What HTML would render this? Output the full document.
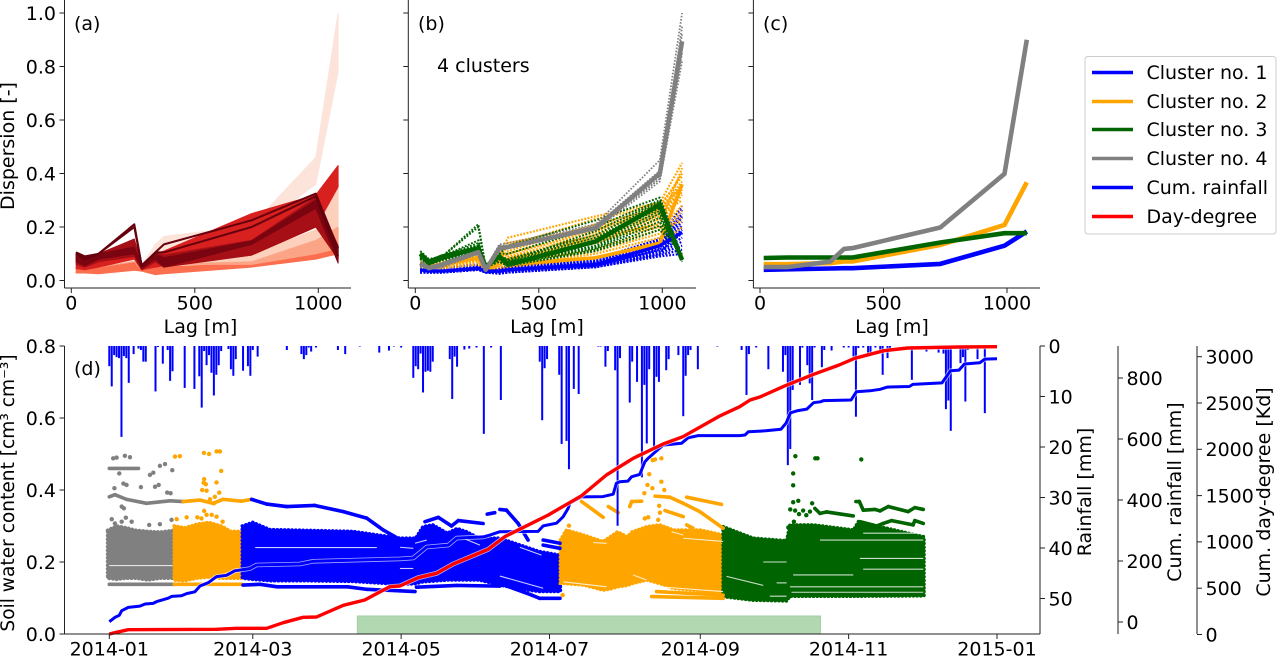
<!DOCTYPE html>
<html lang="en">
<head>
<meta charset="utf-8">
<title>Soil water dispersion clusters</title>
<style>
html,body{margin:0;padding:0;background:#fff;width:1277px;height:656px;overflow:hidden}
svg{display:block}
text{font-family:"DejaVu Sans","Liberation Sans",sans-serif;font-size:19px;fill:#000}
</style>
</head>
<body>
<svg id="figure" width="1277" height="656" viewBox="0 0 1277 656" xmlns="http://www.w3.org/2000/svg">
  <g id="panels"></g>
  <text x="74" y="30">(a)</text>
  <text x="418" y="30">(b)</text>
  <text x="763" y="30">(c)</text>
  <text x="74" y="375">(d)</text>
  <text x="437" y="72">4 clusters</text>
  <text text-anchor="middle" transform="translate(14,146) rotate(-90)">Dispersion [-]</text>
  <text text-anchor="middle" x="200.5" y="333">Lag [m]</text>
  <text text-anchor="middle" x="547" y="333">Lag [m]</text>
  <text text-anchor="middle" x="892" y="333">Lag [m]</text>
  <text text-anchor="middle" style="font-size:18.6px" transform="translate(14,493) rotate(-90)">Soil water content [cm³ cm⁻³]</text>
  <text text-anchor="middle" transform="translate(1091,492) rotate(-90)">Rainfall [mm]</text>
  <text text-anchor="middle" transform="translate(1181,492) rotate(-90)">Cum. rainfall [mm]</text>
  <text text-anchor="middle" transform="translate(1270,492) rotate(-90)">Cum. day-degree [Kd]</text>

  <g>
    <rect x="1085" y="56.5" width="191" height="177.5" rx="3" fill="#fff" stroke="#ccc" stroke-width="1"/>
    <line x1="1092" x2="1133" y1="72.5" y2="72.5" stroke="#0000ff" stroke-width="3.4"/>
    <text x="1146.5" y="79">Cluster no. 1</text>
    <line x1="1092" x2="1133" y1="101.5" y2="101.5" stroke="#ffa500" stroke-width="3.4"/>
    <text x="1146.5" y="108">Cluster no. 2</text>
    <line x1="1092" x2="1133" y1="129.5" y2="129.5" stroke="#006400" stroke-width="3.4"/>
    <text x="1146.5" y="136">Cluster no. 3</text>
    <line x1="1092" x2="1133" y1="158.5" y2="158.5" stroke="#808080" stroke-width="3.4"/>
    <text x="1146.5" y="165">Cluster no. 4</text>
    <line x1="1092" x2="1133" y1="187.5" y2="187.5" stroke="#0000ff" stroke-width="3.4"/>
    <text x="1146.5" y="194">Cum. rainfall</text>
    <line x1="1092" x2="1133" y1="216.5" y2="216.5" stroke="#ff0000" stroke-width="3.4"/>
    <text x="1146.5" y="223">Day-degree</text>
  </g>
</svg>

<script>
/* ---------- Panels a-c: lag categories and tick labels ---------- */
const lagsFine = [20, 55, 110, 255, 285, 340, 375, 730, 990, 1080];
const lagsCoarse = [15, 110, 285, 340, 375, 730, 990, 1080];
const lagTicks = [0, 500, 1000];
const dispersionTicks = [0.0, 0.2, 0.4, 0.6, 0.8, 1.0];

/* Panel (a): envelopes of the red line families */
const redLow = [
  [.04,.04,.04,.05,.04,.04,.05,.18,.36,.78],
  [.03,.03,.03,.04,.035,.03,.03,.055,.09,.10],
  [.028,.028,.025,.038,.035,.022,.025,.05,.08,.10],
  [.05,.045,.05,.07,.04,.05,.06,.06,.10,.12],
  [.045,.04,.05,.08,.04,.05,.055,.095,.20,.35],
  [.06,.05,.07,.09,.04,.07,.05,.095,.20,.08],
  [.07,.055,.08,.10,.045,.08,.05,.135,.27,.065]
];
const redHigh = [
  [.05,.05,.06,.10,.055,.135,.165,.205,.46,1.0],
  [.05,.05,.05,.07,.05,.06,.07,.098,.19,.36],
  [.05,.05,.05,.07,.05,.05,.05,.064,.105,.125],
  [.05,.045,.05,.07,.04,.05,.06,.07,.15,.20],
  [.10,.07,.09,.12,.055,.10,.11,.25,.32,.43],
  [.10,.08,.10,.155,.06,.105,.095,.15,.31,.13],
  [.105,.085,.10,.125,.055,.10,.085,.148,.30,.12]
];
const redPalette = ['#fde4da','#fdd0bc','#fb6e4e','#fca486','#d8201f','#a50f15','#7a0510'];
const darkLine1 = [.105,.09,.10,.21,.055,.105,.135,.225,.325,.12];
const darkLine2 = [.10,.08,.10,.20,.055,.105,.105,.20,.315,.09];

/* Panel (b): dotted members of each cluster */
const membersBlue = [
  [.03,.03,.03,.04,.03,.025,.03,.05,.09,.10],
  [.035,.03,.03,.04,.035,.03,.03,.055,.10,.13],
  [.04,.035,.035,.045,.035,.03,.035,.06,.11,.16],
  [.04,.04,.04,.05,.035,.035,.04,.06,.125,.19],
  [.045,.04,.04,.05,.04,.035,.04,.065,.135,.22],
  [.05,.045,.045,.055,.04,.04,.045,.07,.14,.25],
  [.055,.045,.05,.055,.04,.04,.05,.08,.155,.28],
  [.03,.03,.035,.045,.03,.03,.035,.05,.095,.115],
  [.035,.03,.03,.04,.03,.03,.03,.052,.105,.145],
  [.04,.035,.04,.05,.03,.035,.04,.055,.115,.175],
  [.05,.04,.045,.05,.04,.04,.045,.065,.13,.205],
  [.05,.04,.045,.055,.04,.04,.05,.07,.145,.235],
  [.055,.05,.05,.06,.045,.045,.055,.075,.15,.265],
  [.03,.03,.03,.04,.03,.03,.03,.05,.10,.20],
  [.03,.03,.03,.04,.03,.03,.03,.05,.12,.24]
];
const membersOrange = [
  [.05,.04,.045,.06,.04,.04,.05,.085,.13,.20],
  [.05,.045,.05,.07,.04,.05,.055,.10,.16,.24],
  [.055,.05,.055,.08,.045,.06,.065,.12,.19,.28],
  [.06,.05,.06,.085,.045,.07,.075,.14,.22,.32],
  [.065,.055,.065,.09,.045,.08,.085,.16,.24,.36],
  [.07,.055,.065,.10,.05,.09,.10,.18,.27,.40],
  [.07,.06,.07,.10,.05,.09,.16,.24,.29,.44],
  [.06,.05,.06,.09,.05,.085,.14,.20,.26,.37],
  [.055,.045,.05,.075,.04,.055,.07,.11,.175,.26],
  [.065,.05,.06,.085,.045,.075,.08,.15,.23,.34],
  [.06,.05,.055,.08,.045,.07,.09,.17,.25,.30],
  [.06,.05,.06,.085,.045,.075,.10,.19,.26,.33],
  [.065,.055,.06,.09,.05,.08,.11,.21,.27,.35],
  [.065,.055,.065,.095,.05,.085,.13,.23,.28,.39],
  [.06,.05,.06,.08,.045,.07,.08,.16,.21,.42],
  [.055,.05,.055,.075,.045,.06,.07,.15,.20,.22]
];
const membersGreen = [
  [.11,.08,.09,.21,.05,.10,.13,.225,.31,.09],
  [.10,.07,.09,.20,.05,.10,.10,.20,.30,.08],
  [.10,.07,.09,.15,.05,.09,.08,.17,.29,.08],
  [.09,.07,.09,.13,.05,.09,.07,.15,.27,.075],
  [.09,.06,.08,.12,.05,.08,.065,.13,.25,.07],
  [.085,.06,.08,.11,.05,.08,.06,.12,.22,.09],
  [.08,.06,.08,.10,.05,.07,.055,.11,.19,.10],
  [.10,.075,.09,.14,.05,.09,.075,.16,.28,.08],
  [.095,.07,.085,.125,.05,.085,.07,.14,.26,.075],
  [.085,.065,.08,.115,.05,.08,.065,.125,.235,.085],
  [.095,.07,.09,.13,.05,.085,.07,.185,.295,.085],
  [.08,.06,.075,.10,.05,.07,.055,.115,.205,.095]
];
const membersGray = [
  [.05,.04,.05,.10,.04,.12,.12,.19,.37,.82],
  [.055,.045,.055,.105,.04,.125,.125,.20,.39,.87],
  [.06,.05,.06,.11,.04,.13,.13,.205,.41,.92],
  [.065,.05,.065,.11,.045,.135,.14,.21,.45,1.0],
  [.05,.04,.05,.10,.04,.118,.12,.195,.38,.85],
  [.055,.045,.055,.105,.04,.122,.125,.198,.40,.89],
  [.06,.045,.06,.105,.04,.128,.13,.20,.38,.95]
];
const medoidBlue = [.04,.035,.035,.045,.035,.035,.04,.06,.13,.18];
const medoidOrange = [.06,.05,.06,.085,.045,.075,.06,.085,.14,.36];
const medoidGreen = [.10,.07,.09,.12,.052,.09,.059,.146,.283,.077];
const medoidGray = [.065,.046,.06,.106,.04,.12,.125,.196,.40,.894];

/* Panel (c): cluster means */
const meanBlue = [.04,.042,.045,.046,.046,.062,.13,.183];
const meanOrange = [.061,.061,.065,.071,.071,.133,.208,.367];
const meanGreen = [.084,.086,.086,.086,.086,.142,.177,.177];
const meanGray = [.05,.05,.071,.118,.121,.198,.399,.90];

/* ---------- Panel (d) ---------- */
const dateTickDays = [0, 59, 120, 181, 243, 304, 365];
const dateTickLabels = ['2014-01','2014-03','2014-05','2014-07','2014-09','2014-11','2015-01'];
const soilTicks = [0.0, 0.2, 0.4, 0.6, 0.8];
const rainTicks = [0, 10, 20, 30, 40, 50];
const cumRainTicks = [0, 200, 400, 600, 800];
const dayDegreeTicks = [0, 500, 1000, 1500, 2000, 2500, 3000];
const growingSeason = [102, 292.4];

const rainDays = [0,1,2,3,4,5,6,7,8,10,12,13,14,15,19,20,22,24,25,26,31,35,37,38,39,40,41,42,43,44,45,46,49,50,51,52,55,57,58,59,61,73,79,80,81,82,83,85,94,97,103,111,115,117,
 120,125,126,127,128,129,130,131,132,133,140,141,142,143,146,148,151,154,157,161,177,178,179,180,185,186,188,189,191,193,201,202,204,205,208,209,210,214,215,217,219,220,221,222,224,225,226,229,230,234,236,237,238,239,242,250,
 260,262,263,266,271,277,278,279,280,281,284,285,287,288,289,290,293,294,297,302,304,306,307,308,310,312,313,315,317,318,320,321,330,336,341,343,344,345,346,350,351,352,353,357,360];
const rainValues = [4,8,1.8,2.2,2.4,18,2,2.4,7.3,1.6,.5,.8,3.1,3.1,9,.2,3.5,.8,6.9,5,8.3,8.5,6,12.2,1,3.8,1.8,5.3,9.8,5.7,3.8,1,.6,4.6,5.9,2.6,4.9,4,5.9,.8,2.1,.8,1.6,2.6,1.8,.3,1.1,.3,.8,1.6,.1,1.3,.9,.1,
 .3,6.3,4,4.6,1.5,9.2,5.1,4.9,5.1,3.1,2.6,10.5,2.1,4.1,.7,.5,.3,17.4,.3,10.7,3.1,14.7,4.4,2.6,5.7,19.4,18.8,24.4,8.5,9.5,.1,.1,4.1,1,4.8,35.6,2.4,11.2,3.1,7.1,26,7.7,19.3,4.6,20.3,6.1,7.1,4.8,2.6,1.8,13.9,5.9,1.8,.8,4.6,.1,
 .8,9.7,1.6,.3,4.6,5.1,1.8,23.6,20.4,8.7,7.7,.3,3.8,7.4,10.7,.3,4.2,.8,.9,.3,.3,2.1,14,.4,.3,1.6,1.5,.3,.8,5.7,2.4,.8,6.7,1.1,1.3,1.5,12.5,10.8,16.8,3.4,2.2,11,.8,2.6,13.3];

const cumRainDays = [0,2.3,4.1,5.1,7.8,12.6,14.7,18,19.5,24.2,25.6,29.7,31.8,35.2,37.3,40.7,44.1,48.2,51.6,57.8,60.5,78.4,83.8,119.5,
 125,130.5,139.4,142.8,153.7,156.5,160.6,176.3,178.4,183.9,186.6,188.7,189.4,194.2,203,207.2,208.5,209.9,213.3,214.7,218.1,220.2,221.6,223.9,227.7,235.3,238,242.1,259.2,
 261.4,262.8,269.9,276.2,278.3,280.1,283.2,286.8,289.6,292.4,293.8,305,307.2,312.8,317,319.9,329,330.4,342.4,345.9,349.4,351.6,357.9,360,365];
const cumRainValues = [1,15,22,37,48,52,59,61,67,78,84,86,93,99,118,129,149,153,168,175,187,190,199,207,
 210,246,252,275,279,285,296,297,315,324,345,373,390,410,411,419,455,460,462,476,484,525,537,553,580,586,604,611,611,
 613,624,627,632,652,686,693,698,719,722,726,728,755,758,763,770,772,779,784,824,826,846,850,862,863];

const dayDegreeDays = [0,2.3,7.8,44.1,52.3,64.7,71.5,79.7,85.2,96.2,105,115.3,
 119.5,127,134.6,141.4,155.8,162.6,180.5,194.2,204.4,215.4,227.7,235.9,251,259.2,
 263.5,267.8,277.6,289.6,300.1,306.5,318.5,328.3,349.4,365];
const dayDegreeValues = [5,19,52,56,67,67,127,186,189,315,373,516,
 524,613,661,761,920,1056,1290,1499,1722,1903,2057,2136,2360,2460,
 2532,2568,2683,2810,2910,2983,3065,3094,3105,3108];

/* Cluster assigned to each period of the year */
const periodStart = [-0.7, 26.7, 54.7, 185.5, 252.4];
const periodEnd = [26.7, 54.7, 185.5, 252.4, 335];
const periodColors = ['#808080','#ffa500','#0000ff','#ffa500','#006400'];

/* Dense soil-moisture clouds: read upper and lower limit per period */
const cloudDays = [
  [-0.7,3,7,11,16,21,26.7],
  [26.7,31,36,41,46,50,54.7],
  [54.7,59,66,80,100,119.5,126,129,133,139,143,147,152,160.6,169,177,185.5],
  [185.5,188,195,203,206,209,213,215,221,226.4,232,243,252.4],
  [252.4,264.8,278.5,279.9,289.5,306,308,335]
];
const cloudUpper = [
  [.288,.30,.295,.288,.285,.283,.288],
  [.30,.295,.305,.31,.30,.285,.285],
  [.30,.31,.29,.288,.285,.266,.266,.298,.303,.28,.293,.284,.266,.266,.247,.229,.219],
  [.261,.289,.275,.257,.27,.284,.27,.284,.298,.303,.289,.289,.275],
  [.298,.266,.259,.303,.303,.289,.312,.27]
];
const cloudLower = [
  [.155,.152,.155,.155,.15,.155,.155],
  [.15,.148,.155,.158,.155,.155,.155],
  [.155,.152,.148,.148,.146,.138,.14,.145,.147,.15,.15,.15,.15,.136,.125,.118,.118],
  [.141,.14,.136,.122,.125,.131,.135,.14,.15,.14,.127,.12,.113],
  [.104,.094,.092,.105,.105,.105,.105,.106]
];

/* Sensor tracks that separate from the clouds */
const trackDays = [
  [0,2.3,7.1,15.3,24.9,30.4,37.3,42.7,46.8,54.4,58.5,64.7,72.9,84.5,96.2,105.8,112.6,118.1],
  [0,12],
  [129.8,135.3,140.7,143.5,153.7],
  [155.4,158.5],
  [160.6,163.3,168.1,172.2],
  [178.4,185.3],
  [178.4,185.3],
  [194.2,203.1],
  [205.2,209.3],
  [214,214.8,218.9],
  [224.4,230.5,236,242.8,252.4],
  [237.4,251.7],
  [228.5,236],
  [237.4,240],
  [290.1,292.2,294.9,305.9],
  [307,308.4,310,314.8,316.9,320.3,328.5,331.2,334.7],
  [308.6,315.5,318.2,321.7,330.5,331.2,334.7],
  [0,26.7,54.4,55,62,69,98,106,119.5,125.7],
  [126.3,142.8,160.6],
  [160.6,173,177,185.3],
  [223,252.4],
  [225,252.4]
];
const trackValues = [
  [.381,.387,.374,.363,.370,.368,.372,.363,.374,.369,.374,.361,.354,.357,.340,.322,.289,.268],
  [.46,.46],
  [.312,.324,.300,.315,.307],
  [.333,.337],
  [.346,.344,.307,.261],
  [.261,.252],
  [.247,.238],
  [.368,.324],
  [.354,.337],
  [.354,.368,.369],
  [.383,.38,.363,.34,.294],
  [.38,.36],
  [.343,.326],
  [.303,.294],
  [.349,.335,.339,.328],
  [.368,.368,.344,.346,.342,.354,.34,.351,.346],
  [.312,.30,.307,.315,.303,.315,.307],
  [.138,.138,.138,.136,.138,.131,.131,.124,.120,.118],
  [.13,.135,.133],
  [.14,.11,.099,.099],
  [.104,.099],
  [.118,.108]
];

/* Isolated outlier points */
const outlierDays = [1.6,3,6.4,8.5,16.7,18.1,20.8,22.9,25.9,4.1,5.8,7.1,13,18.8,20.3,23.8,25.2,2.1,5.1,6,1,2.3,5.1,6.8,9.2,16.4,20.8,25.6,
 27,29,38.9,41,44.1,45.5,46,39,38.8,39.7,44.1,38.2,40,45.2,43.4,41.4,43,39,27.7,31.8,36.2,37.9,40,42.1,44.1,46.6,
 220.2,221.6,225.7,226.4,226.1,227,222,221.3,220,223.3,228.2,223.4,227,224.4,186.4,187.4,189,186.4,
 282.1,290.3,291.2,309.2,281.2,281.2,281.2,283.3,289,280,282,283.6,285.3,286.6,288.1,281.5,279.2];
const outlierValues = [.488,.490,.495,.491,.442,.448,.467,.472,.455,.446,.418,.414,.408,.409,.414,.393,.391,.405,.354,.349,.319,.307,.312,.323,.312,.303,.305,.317,
 .493,.494,.503,.500,.507,.507,.453,.430,.420,.416,.421,.400,.398,.393,.381,.374,.363,.342,.319,.324,.324,.321,.331,.331,.326,.312,
 .321,.324,.317,.337,.356,.423,.444,.414,.391,.405,.40,.483,.488,.485,.263,.28,.301,.108,
 .494,.488,.488,.485,.446,.413,.366,.37,.363,.346,.343,.333,.343,.33,.34,.312,.296];

/* Thin white seams visible inside the clouds */
const seamStart = [279.9,280.5,271.6,274.4,308.6,292.2,310,253.8,310,281.2,268.9,
 119.5,125.7,144,168.8,119.5,160.6,60,
 236,231.2,215.4,199,186.7,222.3,0];
const seamEnd = [334.7,334.7,278.5,278.5,334.7,334.7,334.7,268.9,334.7,305.9,278.5,
 125,130.5,152.4,177.7,125,178.4,110,
 252.4,236,220.9,204.5,204.5,252.4,26];
const seamValueA = [.131,.116,.105,.142,.21,.261,.28,.16,.18,.164,.20,
 .241,.252,.27,.241,.182,.161,.24,
 .266,.284,.164,.254,.145,.133,.19];
const seamValueB = [.131,.116,.105,.142,.21,.261,.28,.135,.18,.164,.20,
 .238,.261,.247,.219,.182,.127,.24,
 .257,.275,.15,.252,.131,.118,.19];

/* ---------- Scales ---------- */
const SVGNS = 'http://www.w3.org/2000/svg';
const root = document.getElementById('panels');
const dispY = v => 280.5 - 267.5 * v;
const soilY = v => 634 - 360 * v;
const rainY = v => 346 + 5.05 * v;
const cumRainY = v => 622 - 0.305 * v;
const dayDegY = v => 634.5 - 0.0926 * v;
const dayX = d => 109.3 + 2.432 * d;
const lagX = (originX, lag) => originX + 0.247 * lag;

function mk(tag, attrs, parent) {
  const el = document.createElementNS(SVGNS, tag);
  for (const k in attrs) el.setAttribute(k, attrs[k]);
  (parent || root).appendChild(el);
  return el;
}
function periodColor(day) {
  for (let i = 0; i < periodStart.length; i++) {
    if (day >= periodStart[i] && day < periodEnd[i]) return periodColors[i];
  }
  return periodColors[periodColors.length - 1];
}
function polyPoints(xs, ys) {
  return xs.map((x, i) => x.toFixed(1) + ',' + ys[i].toFixed(1)).join(' ');
}
function spine(x1, y1, x2, y2) {
  const el = mk('line', {x1: x1, y1: y1, x2: x2, y2: y2, stroke: '#222', 'stroke-width': 1});
  
  
}
function xTick(x, y, label) {
  const t = mk('line', {x1: x, x2: x, y1: y, y2: y + 5, stroke: '#222', 'stroke-width': 1});
  
  
  if (label === null) return;
  const s = mk('text', {x: x, y: y + 21.5, 'text-anchor': 'middle'});
  s.textContent = label;
  
  
}
function leftTick(x, y, label) {
  const t = mk('line', {x1: x - 5, x2: x, y1: y, y2: y, stroke: '#222', 'stroke-width': 1});
  
  
  if (label === null) return;
  const s = mk('text', {x: x - 8.5, y: y + 6.8, 'text-anchor': 'end'});
  s.textContent = label;
  
  
}
function rightTick(x, y, label, pad) {
  const t = mk('line', {x1: x, x2: x + 5, y1: y, y2: y, stroke: '#222', 'stroke-width': 1});
  
  
  const s = mk('text', {x: x + pad, y: y + 6.8});
  s.textContent = label;
  
  
}
function lagFrame(left, right, originX, labelled) {
  spine(left, 0, left, 288);
  spine(left, 288, right, 288);
  lagTicks.forEach(t => xTick(lagX(originX, t), 288, String(t)));
  dispersionTicks.forEach(t => leftTick(left, dispY(t), labelled ? t.toFixed(1) : null));
}
function lagLine(originX, lags, values, color, width, dash, name) {
  const attrs = {
    points: polyPoints(lags.map(l => lagX(originX, l)), values.map(dispY)),
    fill: 'none', stroke: color, 'stroke-width': width, 'stroke-linejoin': 'round'
  };
  if (dash) attrs['stroke-dasharray'] = dash;
  const el = mk('polyline', attrs);
  
  
}

/* ---------- Panel (a) ---------- */
redLow.forEach((low, i) => {
  const high = redHigh[i];
  const xs = lagsFine.map(l => lagX(71.3, l));
  const pg = mk('polygon', {
    points: polyPoints(xs.concat(xs.slice().reverse()), high.map(dispY).concat(low.map(dispY).reverse())),
    fill: redPalette[i], stroke: redPalette[i], 'stroke-width': 1, 'stroke-linejoin': 'round'
  });
  
  
});
lagLine(71.3, lagsFine, darkLine1, '#67000d', 2, null, 'darkest-dispersion-line');
lagLine(71.3, lagsFine, darkLine2, '#67000d', 2, null, 'darkest-dispersion-line');
lagFrame(64.5, 351, 71.3, true);

/* ---------- Panel (b) ---------- */
membersBlue.forEach(r => lagLine(415.3, lagsFine, r, '#0000ff', 2.2, '1.8 1.5', 'cluster-1-member-line'));
membersOrange.forEach(r => lagLine(415.3, lagsFine, r, '#ffa500', 2.2, '1.8 1.5', 'cluster-2-member-line'));
lagLine(415.3, lagsFine, medoidOrange, '#ffa500', 3.6, null, 'cluster-2-representative-line');
membersGreen.forEach(r => lagLine(415.3, lagsFine, r, '#006400', 2, '1.8 1.6', 'cluster-3-member-line'));
membersGray.forEach(r => lagLine(415.3, lagsFine, r, '#808080', 1.8, '1.6 1.6', 'cluster-4-member-line'));
lagLine(415.3, lagsFine, medoidBlue, '#0000ff', 3.4, null, 'cluster-1-representative-line');
lagLine(415.3, lagsFine, medoidGreen, '#006400', 4.5, null, 'cluster-3-representative-line');
lagLine(415.3, lagsFine, medoidGray, '#808080', 4.5, null, 'cluster-4-representative-line');
lagFrame(408.3, 696, 415.3, false);

/* ---------- Panel (c) ---------- */
lagLine(760, lagsCoarse, meanBlue, '#0000ff', 4.6, null, 'cluster-1-mean-line');
lagLine(760, lagsCoarse, meanOrange, '#ffa500', 4.6, null, 'cluster-2-mean-line');
lagLine(760, lagsCoarse, meanGreen, '#006400', 4.6, null, 'cluster-3-mean-line');
lagLine(760, lagsCoarse, meanGray, '#808080', 4.6, null, 'cluster-4-mean-line');
lagFrame(753.4, 1040, 760, false);

/* ---------- Panel (d) ---------- */
const season = mk('rect', {
  x: dayX(growingSeason[0]), y: 616,
  width: dayX(growingSeason[1]) - dayX(growingSeason[0]), height: 18,
  fill: '#b2d8b2', stroke: '#9fcf9f', 'stroke-width': 1
});



cloudDays.forEach((days, i) => {
  const xs = days.map(dayX);
  const pts = polyPoints(xs.concat(xs.slice().reverse()), cloudUpper[i].map(soilY).concat(cloudLower[i].map(soilY).reverse()));
  const cloud = mk('polygon', {
    points: pts, fill: periodColors[i], stroke: periodColors[i], 'stroke-width': 1.5, 'stroke-linejoin': 'round'
  });
  
  
  const edge = mk('polygon', {
    points: pts, fill: 'none', stroke: periodColors[i], 'stroke-width': 3.6,
    'stroke-linecap': 'round', 'stroke-dasharray': '0.1 3.6'
  });
  
  
});
seamValueA.forEach((v, i) => {
  const seam = mk('line', {
    x1: dayX(seamStart[i]), x2: dayX(seamEnd[i]), y1: soilY(v), y2: soilY(seamValueB[i]),
    stroke: '#fff', 'stroke-width': 1.1, 'stroke-opacity': 0.8
  });
  
  
});
trackDays.forEach((days, i) => {
  for (let k = 0; k < days.length - 1; k++) {
    const seg = mk('line', {
      x1: dayX(days[k]), x2: dayX(days[k + 1]),
      y1: soilY(trackValues[i][k]), y2: soilY(trackValues[i][k + 1]),
      stroke: periodColor(days[k]), 'stroke-width': 3.6, 'stroke-linecap': 'round'
    });
    
    
  }
});
outlierDays.forEach((d, i) => {
  const dot = mk('circle', {cx: dayX(d), cy: soilY(outlierValues[i]), r: 2.2, fill: periodColor(d)});
  
  
});
rainDays.forEach((d, i) => {
  const bar = mk('rect', {x: dayX(d) - 1, y: 346, width: 2, height: rainY(rainValues[i]) - 346, fill: '#0000ff'});
  
  
});

function timeLine(days, values, scale, color, width, name) {
  const pts = polyPoints(days.map(dayX), values.map(scale));
  const halo = mk('polyline', {points: pts, fill: 'none', stroke: '#fff', 'stroke-opacity': 0.65, 'stroke-width': width + 1.6, 'stroke-linejoin': 'round'});
  
  
  const ln = mk('polyline', {points: pts, fill: 'none', stroke: color, 'stroke-width': width, 'stroke-linejoin': 'round'});
  
  
}
timeLine(cumRainDays, cumRainValues, cumRainY, '#0000ff', 3, 'cum-rainfall-line');
timeLine(dayDegreeDays, dayDegreeValues, dayDegY, '#ff0000', 3.4, 'day-degree-line');

spine(64.5, 346, 64.5, 634);
spine(1040, 346, 1040, 634);
spine(64.5, 634, 1040, 634);
spine(1118, 346, 1118, 634);
spine(1197, 346, 1197, 634);
dateTickDays.forEach((d, i) => xTick(dayX(d), 634, dateTickLabels[i]));
soilTicks.forEach(t => leftTick(64.5, soilY(t), t.toFixed(1)));
rainTicks.forEach(t => rightTick(1040, rainY(t), String(t), 8.5));
cumRainTicks.forEach(t => rightTick(1118, cumRainY(t), String(t), 8.5));
dayDegreeTicks.forEach(t => rightTick(1197, dayDegY(t), String(t), 8.5));
</script>
</body>
</html>
